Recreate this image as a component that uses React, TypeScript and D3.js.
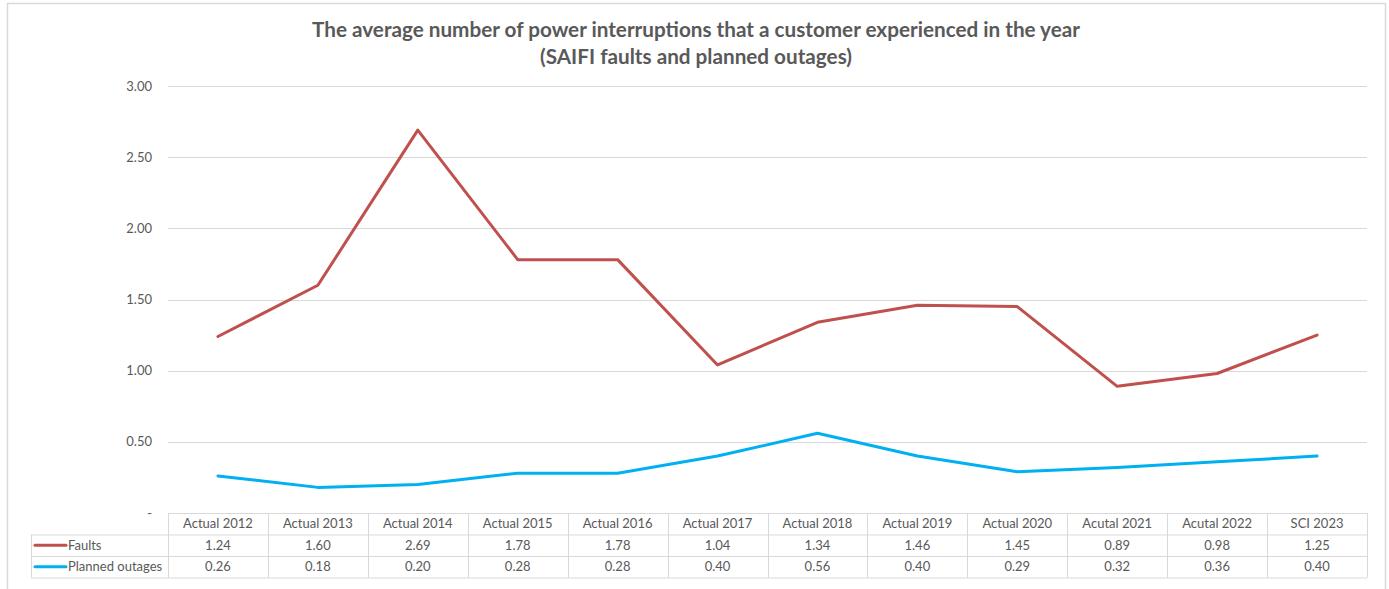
import * as d3 from 'd3';

const CATEGORIES = [
  'Actual 2012', 'Actual 2013', 'Actual 2014', 'Actual 2015', 'Actual 2016', 'Actual 2017',
  'Actual 2018', 'Actual 2019', 'Actual 2020', 'Acutal 2021', 'Acutal 2022', 'SCI 2023',
];
const FAULTS = [1.24, 1.6, 2.69, 1.78, 1.78, 1.04, 1.34, 1.46, 1.45, 0.89, 0.98, 1.25];
const PLANNED = [0.26, 0.18, 0.2, 0.28, 0.28, 0.4, 0.56, 0.4, 0.29, 0.32, 0.36, 0.4];
const Y_TICKS = [0, 0.5, 1, 1.5, 2, 2.5, 3];

const SERIES = [
  { name: 'Faults', values: FAULTS, color: '#C0504D' },
  { name: 'Planned outages', values: PLANNED, color: '#00B0F0' },
];

const W = 1389;
const H = 589;
const FONT = "Lato, 'Open Sans', sans-serif";
const TEXT = '#595959';
const GRID = '#D9D9D9';

export default function App() {
  const left = 168;
  const right = 1367;
  const top = 86;
  const bottom = 513;
  const rowH = 21.5;
  const legendLeft = 31;

  const x = d3.scaleBand<string>().domain(CATEGORIES).range([left, right]);
  const y = d3.scaleLinear().domain([0, 3]).range([bottom, top]);

  const line = d3
    .line<number>()
    .x((_, i) => (x(CATEGORIES[i]) ?? 0) + x.bandwidth() / 2)
    .y((d) => y(d));

  return (
    <svg width={W} height={H} style={{ position: 'absolute', left: 0, top: 0 }} fontFamily={FONT}>
      <rect x={0} y={0} width={W} height={H} fill="#fff" />
      {/* chart frame, runs off the bottom of the picture */}
      <rect x={7.5} y={3.5} width={1378} height={600} fill="none" stroke={GRID} strokeWidth={1.5} />

      <text x={696} y={37} textAnchor="middle" fontSize={20.7} fontWeight="bold" fill={TEXT}>
        The average number of power interruptions that a customer experienced in the year
      </text>
      <text x={696} y={64} textAnchor="middle" fontSize={20.7} fontWeight="bold" fill={TEXT}>
        (SAIFI faults and planned outages)
      </text>

      {Y_TICKS.map((t) => (
        <g key={t}>
          {t > 0 && (
            <line x1={left} x2={right} y1={Math.round(y(t)) + 0.5} y2={Math.round(y(t)) + 0.5} stroke={GRID} />
          )}
          <text x={152} y={y(t)} dy="0.35em" textAnchor="end" fontSize={13} fill={TEXT}>
            {t === 0 ? '-' : t.toFixed(2)}
          </text>
        </g>
      ))}

      {SERIES.map((s) => (
        <path
          key={s.name}
          d={line(s.values) ?? ''}
          fill="none"
          stroke={s.color}
          strokeWidth={3}
          strokeLinejoin="round"
          strokeLinecap="round"
        />
      ))}

      {/* data table */}
      <g stroke={GRID} fill="none">
        <line x1={left} x2={right} y1={bottom + 0.5} y2={bottom + 0.5} />
        <line x1={legendLeft} x2={right} y1={bottom + rowH + 0.5} y2={bottom + rowH + 0.5} />
        <line x1={legendLeft} x2={right} y1={bottom + 2 * rowH + 0.5} y2={bottom + 2 * rowH + 0.5} />
        <line x1={legendLeft} x2={right} y1={bottom + 3 * rowH + 0.5} y2={bottom + 3 * rowH + 0.5} />
        <line x1={legendLeft + 0.5} x2={legendLeft + 0.5} y1={bottom + rowH} y2={bottom + 3 * rowH} />
        {CATEGORIES.map((c) => (
          <line
            key={c}
            x1={Math.round(x(c) ?? 0) + 0.5}
            x2={Math.round(x(c) ?? 0) + 0.5}
            y1={bottom}
            y2={bottom + 3 * rowH}
          />
        ))}
        <line x1={right + 0.5} x2={right + 0.5} y1={bottom} y2={bottom + 3 * rowH} />
      </g>

      {CATEGORIES.map((c) => (
        <text
          key={c}
          x={(x(c) ?? 0) + x.bandwidth() / 2}
          y={bottom + rowH / 2}
          dy="0.35em"
          textAnchor="middle"
          fontSize={13}
          fill={TEXT}
        >
          {c}
        </text>
      ))}

      {SERIES.map((s, si) => {
        const rowY = bottom + rowH * (si + 1) + rowH / 2;
        return (
          <g key={s.name}>
            <line x1={35} x2={66} y1={rowY} y2={rowY} stroke={s.color} strokeWidth={3} strokeLinecap="round" />
            <text x={68} y={rowY} dy="0.35em" fontSize={13} fill={TEXT}>
              {s.name}
            </text>
            {s.values.map((v, i) => (
              <text
                key={i}
                x={(x(CATEGORIES[i]) ?? 0) + x.bandwidth() / 2}
                y={rowY}
                dy="0.35em"
                textAnchor="middle"
                fontSize={13}
                fill={TEXT}
              >
                {v.toFixed(2)}
              </text>
            ))}
          </g>
        );
      })}
    </svg>
  );
}
